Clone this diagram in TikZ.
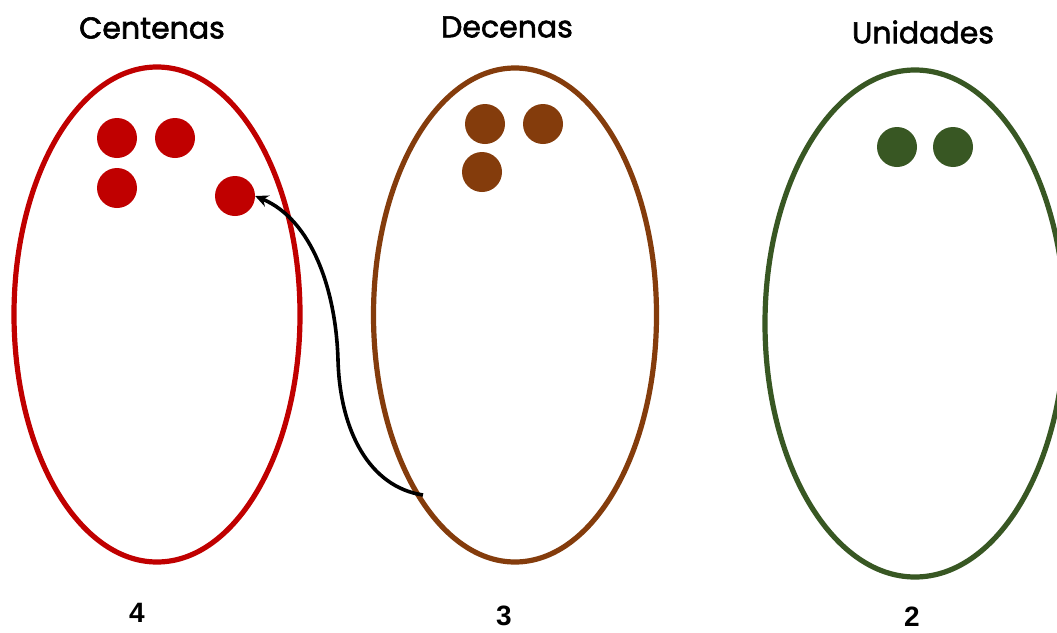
\documentclass[tikz,border=0pt]{standalone}
\usepackage{fontspec}
\usetikzlibrary{shapes.geometric,arrows.meta}
\newfontfamily\titlefont[FakeBold=2]{Poppins}
\newfontfamily\numfont{Liberation Sans}
\definecolor{cred}{HTML}{C00000}
\definecolor{cbrown}{HTML}{843C0C}
\definecolor{cgreen}{HTML}{385723}
\begin{document}
\begin{tikzpicture}[x=1pt,y=-1pt,
  oval/.style={ellipse,draw,line width=5.2pt,inner sep=0pt,outer sep=0pt},
  dot/.style={circle,fill,inner sep=0pt,minimum size=40pt},
  title/.style={font=\titlefont\fontsize{30}{34}\selectfont,inner sep=0pt},
  num/.style={font=\numfont\bfseries\fontsize{28}{32}\selectfont,inner sep=0pt}]
\useasboundingbox (0,0) rectangle (1057,632);
\fill[white] (0,0) rectangle (1057,632);
% ovals
\node[oval,cred,minimum width=286pt,minimum height=495pt] (c) at (157,314.5) {};
\node[oval,cbrown,minimum width=283pt,minimum height=494pt] (d) at (515,315) {};
\node[oval,cgreen,minimum width=300pt,minimum height=507pt] (u) at (915,323.5) {};
% titles
\node[title] (tc) at (152,28) {Centenas};
\node[title] (td) at (507,27) {Decenas};
\node[title] (tu) at (923,32) {Unidades};
% numbers
\node[num] (nc) at (137,613) {4};
\node[num] (nd) at (504,616) {3};
\node[num] (nu) at (912,617) {2};
% dots
\node[dot,cred] (r1) at (117,138) {};
\node[dot,cred] (r2) at (175,138) {};
\node[dot,cred] (r3) at (117,188) {};
\node[dot,cred] (r4) at (235,196) {};
\node[dot,cbrown] (b1) at (485,124) {};
\node[dot,cbrown] (b2) at (543,124) {};
\node[dot,cbrown] (b3) at (482,172) {};
\node[dot,cgreen] (g1) at (897,147) {};
\node[dot,cgreen] (g2) at (953,147) {};
% arrow
\coordinate (s) at (423,495);
\coordinate (m) at (338,360);
\draw[line width=3.6pt,-{Stealth[length=13pt,width=12pt]}]
  (s) .. controls (370,487) and (340,432) .. (m)
      .. controls (336,290) and (312,220) .. (r4.east);
\end{tikzpicture}
\end{document}
